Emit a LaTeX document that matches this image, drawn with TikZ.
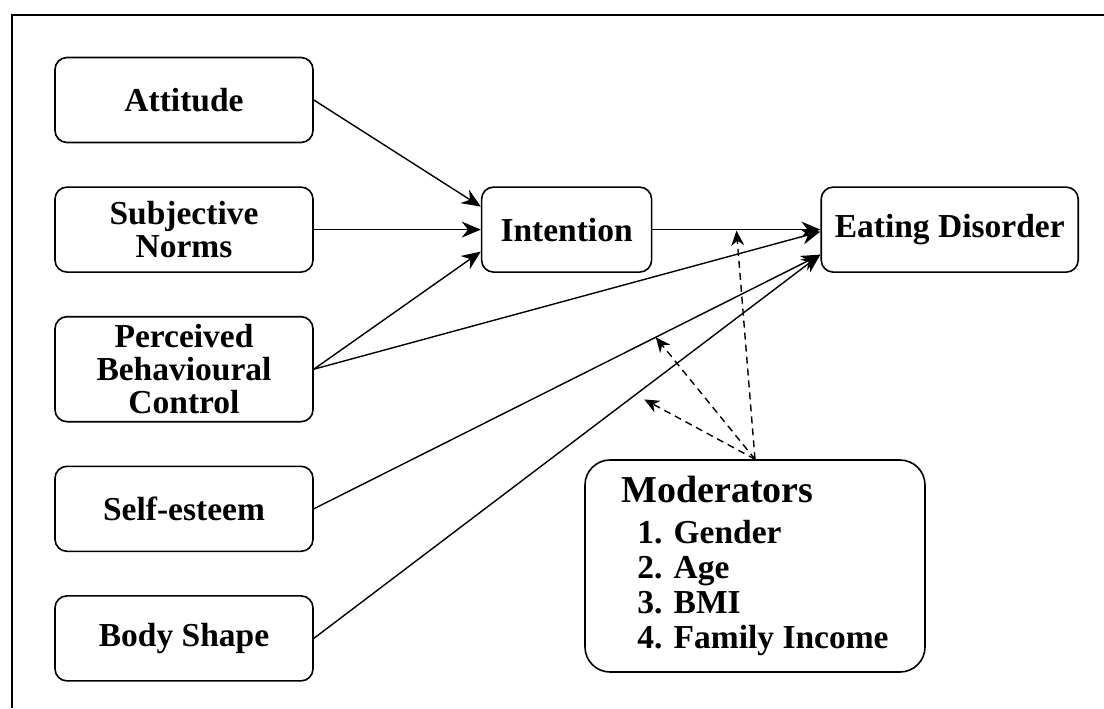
\documentclass[tikz,border=0pt]{standalone}
\usepackage{fontspec}
\setmainfont{Liberation Serif}
\usetikzlibrary{positioning, arrows.meta}

\begin{document}
\begin{tikzpicture}[
    x=0.5pt, y=-0.5pt,
    style={node distance=21.5pt and 83.5pt},
    box/.style={draw, line width=0.8pt, rounded corners=6pt, minimum width=129pt,
      minimum height=42.5pt, inner sep=2pt, align=center,
      font=\fontsize{16.75}{16.5}\selectfont\bfseries},
    link/.style={-{Stealth[length=9.5pt, width=8pt]}, line width=0.7pt},
    modlink/.style={dash pattern=on 3.5pt off 2.5pt, -{Stealth[length=7.5pt, width=6.5pt]}, line width=0.7pt}
]
\useasboundingbox (0,0) rectangle (1104,708);
\draw[line width=1pt] (12,708) -- (12,15) -- (1104,15);

  % Predictors on the left
  \node[box] (att) at (184,100) {Attitude};
  \node[box, below=of att] (sn) {Subjective\\Norms};
  \node[box, below=of sn, minimum height=52.5pt] (pbc) {Perceived\\Behavioural\\Control};
  \node[box, below=of pbc] (se) {Self-esteem};
  \node[box, below=of se] (bs) {Body Shape};

  % Intention and outcome
  \node[box, right=of sn, minimum width=85pt] (int) {Intention};
  \node[box, right=84pt of int, minimum width=128.5pt] (ed) {Eating Disorder};

  % Moderators
  \node[box, rounded corners=12.5pt, minimum width=170pt, minimum height=106pt, align=left,
    font=\fontsize{16.75}{17.5}\selectfont\bfseries] (mods) at (755,566)
    {{\fontsize{19}{19}\selectfont Moderators}\\[3pt]
     \hspace{8pt}1. Gender\\
     \hspace{8pt}2. Age\\
     \hspace{8pt}3. BMI\\
     \hspace{8pt}4. Family Income};

\draw[link] (att.east) -- ([yshift=11.5pt]int.west);
\draw[link] (sn.east) -- (int.west);
\draw[link] (pbc.east) -- ([yshift=-11pt]int.west);
\draw[link] (int.east) -- coordinate[pos=0.5] (inth) (ed.west);
\draw[link] (pbc.east) -- ([yshift=-1pt]ed.west);
\draw[link] (se.east) -- coordinate[pos=0.675] (seh) ([yshift=-12.5pt]ed.west);
\draw[link] (bs.east) -- coordinate[pos=0.635] (bsh) ([yshift=-12.5pt]ed.west);

  % Moderating effects
\draw[modlink, shorten >=0.5pt] (mods.north) -- (inth);
\draw[modlink] (mods.north) -- (seh);
\draw[modlink, shorten >=5pt] (mods.north) -- (bsh);
\end{tikzpicture}
\end{document}
